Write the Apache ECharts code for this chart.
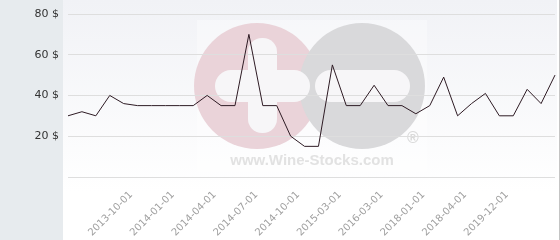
<!DOCTYPE html>
<html>
<head>
<meta charset="utf-8">
<script src="https://cdn.jsdelivr.net/npm/echarts@6/dist/echarts.min.js"></script>
<style>
html,body{margin:0;padding:0;background:#fff;}
#c{width:560px;height:240px;}
</style>
</head>
<body>
<div id="c"></div>
<script>
var categories = [
  '2013-05-01','2013-06-01','2013-07-01','2013-08-01','2013-09-01','2013-10-01',
  '2013-11-01','2013-12-01','2014-01-01','2014-02-01','2014-03-01','2014-04-01',
  '2014-05-01','2014-06-01','2014-07-01','2014-08-01','2014-09-01','2014-10-01',
  '2014-11-01','2015-01-01','2015-03-01','2015-06-01','2015-10-01','2016-03-01',
  '2016-09-01','2017-06-01','2018-01-01','2018-02-01','2018-03-01','2018-04-01',
  '2018-10-01','2019-06-01','2019-12-01','2020-06-01','2021-01-01','2021-06-01'
];
var prices = [
  30, 32, 30, 40, 36, 35,
  35, 35, 35, 35, 40, 35,
  35, 70, 35, 35, 20, 15,
  15, 55, 35, 35, 45, 35,
  35, 31, 35, 49, 30, 36,
  41, 30, 30, 43, 36, 50
];
var tickLabels = ['2013-10-01','2014-01-01','2014-04-01','2014-07-01','2014-10-01',
  '2015-03-01','2016-03-01','2018-01-01','2018-04-01','2019-12-01'];
var yTicks = [0, 20, 40, 60, 80];

var chart = echarts.init(document.getElementById('c'), null, {renderer: 'canvas'});
chart.setOption({
  animation: false,
  backgroundColor: '#ffffff',
  grid: {left: 68, right: 5, top: 14, bottom: 62, containLabel: false},
  graphic: [
    {type: 'rect', z: -100, silent: true, shape: {x: 0, y: 0, width: 63, height: 240}, style: {fill: '#e7ebee'}},
    {type: 'rect', z: -100, silent: true, shape: {x: 63, y: 0, width: 494, height: 240},
      style: {fill: new echarts.graphic.LinearGradient(0, 0, 0, 1, [
        {offset: 0, color: '#f1f2f6'}, {offset: 0.8, color: '#ffffff'}, {offset: 1, color: '#ffffff'}])}},
    {type: 'rect', z: -100, silent: true, shape: {x: 559, y: 0, width: 1, height: 240}, style: {fill: '#c4c4c4'}},
    {type: 'rect', z: -90, silent: true, shape: {x: 197, y: 20, width: 230, height: 152}, style: {fill: 'rgba(255,255,255,0.35)'}},
    {type: 'circle', z: -80, silent: true, shape: {cx: 257, cy: 86, r: 63}, style: {fill: '#ead3d9'}},
    {type: 'circle', z: -79, silent: true, shape: {cx: 362, cy: 86, r: 63}, style: {fill: '#d9d9db'}},
    {type: 'rect', z: -78, silent: true, shape: {x: 248, y: 38, width: 29, height: 95, r: 14}, style: {fill: '#f7f6f8'}},
    {type: 'rect', z: -78, silent: true, shape: {x: 215, y: 70, width: 95, height: 32, r: 16}, style: {fill: '#f7f6f8'}},
    {type: 'rect', z: -78, silent: true, shape: {x: 315, y: 70, width: 95, height: 32, r: 16}, style: {fill: '#f7f6f8'}},
    {type: 'text', z: -78, silent: true, style: {x: 312, y: 161, text: 'www.Wine-Stocks.com', fill: '#e2e2e2',
      font: 'bold 15px "Liberation Sans", Arial, sans-serif', align: 'center', verticalAlign: 'middle'}},
    {type: 'text', z: -78, silent: true, style: {x: 413, y: 139, text: '®', fill: '#dadada',
      font: 'bold 16px "Liberation Sans", Arial, sans-serif', align: 'center', verticalAlign: 'middle'}}
  ],
  xAxis: {
    type: 'category',
    data: categories,
    boundaryGap: false,
    axisLine: {show: false},
    axisTick: {show: false},
    splitLine: {show: false},
    axisLabel: {
      rotate: 45,
      color: '#a0a0a0',
      fontSize: 10,
      fontFamily: 'DejaVu Sans',
      margin: 10,
      padding: [0, 9, 0, 0],
      interval: function (i, v) { return tickLabels.indexOf(v) >= 0; }
    }
  },
  yAxis: {
    type: 'value',
    min: 0, max: 80, interval: 20,
    axisLine: {show: false},
    axisTick: {show: false},
    splitLine: {lineStyle: {color: '#dedede', width: 1}},
    axisLabel: {
      color: '#333333', fontSize: 11, fontFamily: 'DejaVu Sans', margin: 9,
      formatter: function (v) { return yTicks.indexOf(v) > 0 ? v + ' $' : ''; }
    }
  },
  series: [{
    type: 'line',
    data: prices,
    z: 5,
    symbol: 'none',
    lineStyle: {color: '#2e1b24', width: 1}
  }]
});
</script>
</body>
</html>
